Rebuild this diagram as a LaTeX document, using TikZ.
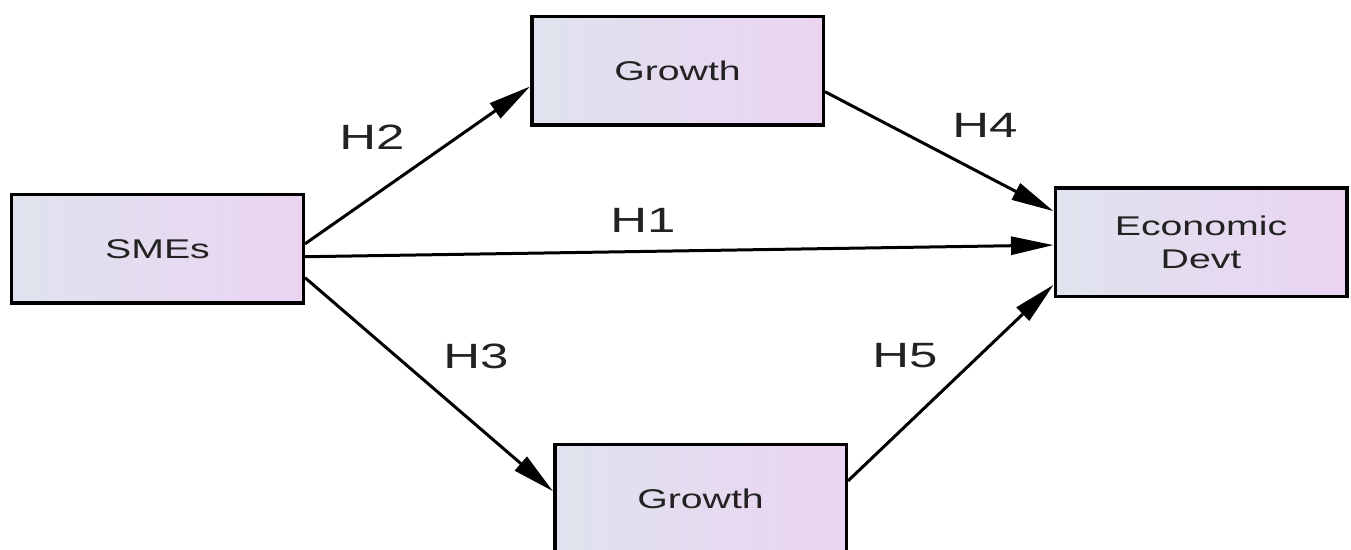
\documentclass[tikz,border=0pt]{standalone}
\usepackage{fontspec}
\setmainfont{Liberation Sans}[FakeStretch=1.45]
\usepackage{tikz}
\usetikzlibrary{shapes, calc, arrows.meta}
\usepackage{xcolor}
\definecolor{boxleftcolor}{HTML}{DFE3EE}
\definecolor{boxrightcolor}{HTML}{EBD4F2}
\definecolor{textcolor}{HTML}{222222}

\begin{document}
\begin{tikzpicture}[
    box/.style={draw=black, line width=0.07cm, rectangle, inner sep=0pt,
        minimum width=5.83cm, minimum height=2.17cm,
        left color=boxleftcolor, right color=boxrightcolor,
        text=textcolor, align=center,
        font=\fontsize{15.4}{18.8}\selectfont},
    hyp/.style={text=textcolor, font=\fontsize{20}{24}\selectfont},
    link/.style={line width=0.06cm, arrows={-Triangle[length=0.85cm,width=0.36cm]}}]

    \useasboundingbox (0,0) rectangle (27.02,11);

    % Boxes
    \node[box] (smes) at (3.15,6.02) {SMEs};
    \node[box] (growthtop) at (13.55,9.58) {Growth};
    \node[box] (growthbot) at (14.01,1.02) {Growth};
    \node[box] (econ) at (24.02,6.15) {Economic\\Devt};

    % Hypotheses
    \node[hyp] (h1) at (12.86,6.6) {H1};
    \node[hyp] (h2) at (7.44,8.26) {H2};
    \node[hyp] (h3) at (9.52,3.88) {H3};
    \node[hyp] (h4) at (19.7,8.5) {H4};
    \node[hyp] (h5) at (18.1,3.88) {H5};

    % Draw the paths
    \draw[link] (smes.2.7)  -- (growthtop.186.6);
    \draw[link] (smes.-3.1) -- (econ.181.8);
    \draw[link] (smes.-11.1) -- (growthbot.177.3);
    \draw[link] (growthtop.-8.4) -- (econ.168.3);
    \draw[link] (growthbot.7.3) -- (econ.196);
\end{tikzpicture}
\end{document}
